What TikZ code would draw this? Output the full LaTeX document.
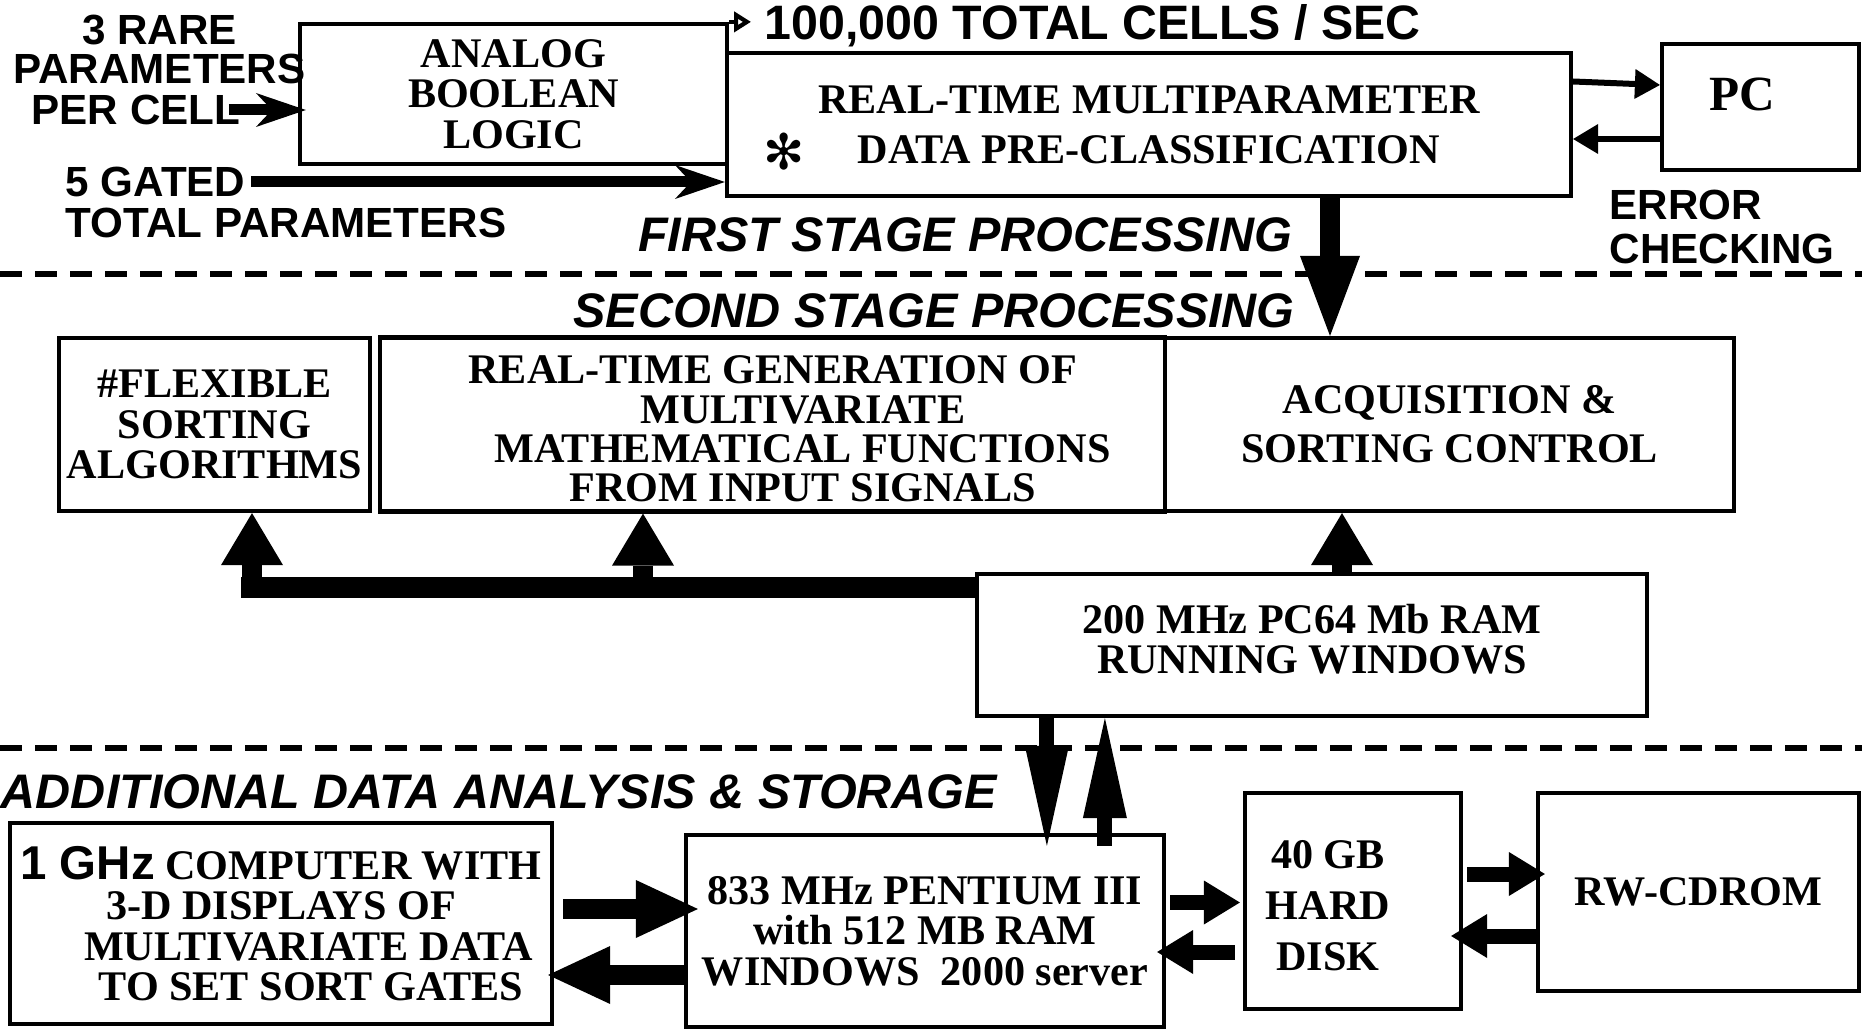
\documentclass[tikz,border=0pt]{standalone}
\usepackage{fontspec}
\setmainfont{Liberation Serif}
\setsansfont{Liberation Sans}
\newfontfamily\dingfont{DejaVu Sans}
\usetikzlibrary{
  arrows.meta,
  positioning
}
% stacked lines with extra room above / below
\newcommand{\padtext}[3]{\raisebox{0pt}[\dimexpr\height+#1\relax][\dimexpr\depth+#2\relax]{%
  \begin{tabular}{@{}c@{}}#3\end{tabular}}}

\begin{document}
\begin{tikzpicture}[
  blk/.style={draw, line width=1.2pt, inner sep=0pt, align=center,
    font=\bfseries\fontsize{12}{11.5}\selectfont},
  lbl/.style={inner sep=0pt, align=center,
    font=\sffamily\bfseries\fontsize{12}{11.2}\selectfont},
  stagelbl/.style={inner sep=0pt,
    font=\sffamily\bfseries\itshape\fontsize{13.8}{14}\selectfont},
  divider/.style={line width=1.5pt, dash pattern=on 0.22cm off 0.13cm},
  inarrow/.style={line width=0.11cm,
    -{Stealth[length=0.5cm, width=0.34cm, inset=0.16cm, line width=0pt]}},
  thinarrow/.style={line width=0.06cm,
    -{Triangle[length=0.25cm, width=0.3cm, line width=0pt]}},
  downarrow/.style={line width=0.2cm,
    -{Triangle[length=0.8cm, width=0.6cm, line width=0pt]}},
  bigarrow/.style={line width=0.2cm,
    -{Triangle[length=0.62cm, width=0.58cm, line width=0pt]}},
  busarrow/.style={line width=0.2cm,
    -{Triangle[length=0.52cm, width=0.62cm, line width=0pt]}},
  midarrow/.style={line width=0.15cm,
    -{Triangle[length=0.36cm, width=0.44cm, line width=0pt]}},
  longarrow/.style={line width=0.15cm,
    -{Triangle[length=1.0cm, width=0.44cm, line width=0pt]}}
]
  \useasboundingbox (0,0) rectangle (18.62,10.30);

  % first stage
  \node[lbl] (rare) at (1.595,9.805) {3 RARE\\PARAMETERS};
  \node[lbl] (percell) at (1.36,9.20) {PER CELL};
  \node[lbl, anchor=west] (gated) at (0.65,8.48) {5 GATED};
  \node[lbl, anchor=west] (totalpar) at (0.65,8.07) {TOTAL PARAMETERS};

  \node[blk, minimum width=4.27cm, minimum height=1.40cm] (analog) at (5.135,9.36)
    {ANALOG\\BOOLEAN\\LOGIC};
  \node[blk, minimum width=8.44cm, minimum height=1.43cm] (rt) at (11.49,9.055)
    {REAL-TIME MULTIPARAMETER\\[0.1cm]DATA PRE-CLASSIFICATION};
  \node[inner sep=0pt, font=\dingfont\fontsize{14}{14}\selectfont] (star) at (7.84,8.78) {✻};
  \node[blk, minimum width=1.97cm, minimum height=1.26cm, text depth=0.25cm,
    font=\bfseries\fontsize{14}{14}\selectfont] (pc) at (17.605,9.23) {PC\kern0.36cm\null};

  \node[lbl, anchor=west, font=\sffamily\bfseries\fontsize{13.75}{14}\selectfont] (cells)
    at (7.64,10.04) {100,000 TOTAL CELLS / SEC};
  \node[lbl, anchor=west, align=left, font=\sffamily\bfseries\fontsize{12}{12.5}\selectfont]
    (errchk) at (16.09,8.03) {ERROR\\CHECKING};
  \node[stagelbl] (first) at (9.65,7.95) {FIRST STAGE PROCESSING};

  \draw[inarrow, shorten >=-0.08cm] ([xshift=-0.12cm]percell.east) -- (percell.east -| analog.west);
  \draw[inarrow] ([xshift=0.05cm]gated.east) -- (gated.east -| rt.west);
  \draw[line width=1.2pt, -{Triangle[open, length=0.17cm, width=0.2cm]}, shorten >=0.13cm]
    (analog.north east) -- (analog.north east -| cells.west);
  \draw[thinarrow] ([yshift=0.43cm]rt.east) -- ([yshift=0.22cm]pc.west);
  \draw[thinarrow] ([yshift=-0.32cm]pc.west) -- ([yshift=-0.32cm]pc.west -| rt.east);

  \draw[divider] (0,7.56) -- (18.62,7.56);

  % second stage
  \node[stagelbl] (second) at (9.34,7.19) {SECOND STAGE PROCESSING};

  \node[blk, minimum width=3.11cm, minimum height=1.73cm] (flex) at (2.145,6.055)
    {\#FLEXIBLE\\SORTING\\ALGORITHMS};
  \node[blk, minimum width=7.85cm, minimum height=1.74cm, right=0.06cm of flex,
    font=\bfseries\fontsize{12}{10.8}\selectfont] (gen)
    {\padtext{0pt}{-0.2cm}{REAL-TIME GENERATION OF\\\hspace*{0.6cm}MULTIVARIATE\\
     \hspace*{0.6cm}MATHEMATICAL FUNCTIONS\\\hspace*{0.6cm}FROM INPUT SIGNALS}};
  \node[blk, minimum width=5.69cm, minimum height=1.73cm, right=-1.2pt of gen] (acq)
    {ACQUISITION \&\\[0.085cm]SORTING CONTROL};
  \node[blk, minimum width=6.70cm, minimum height=1.42cm] (pc200) at (13.12,3.85)
    {\padtext{0pt}{0pt}{200 MHz PC64 Mb RAM\\RUNNING WINDOWS}};

  \draw[downarrow] ([xshift=1.81cm]rt.south) -- ([xshift=1.81cm]rt.south |- acq.north);

  % bus to the processing blocks
  \coordinate (tapflex) at (2.52,4.425);
  \coordinate (tapgen) at (6.43,4.425);
  \draw[line width=0.21cm] ([xshift=-0.11cm]tapflex) -- (tapflex -| pc200.west);
  \draw[busarrow] ([yshift=0.1cm]tapflex) -- (tapflex |- flex.south);
  \draw[busarrow] ([yshift=0.1cm]tapgen) -- (tapgen |- gen.south);
  \draw[busarrow] ([xshift=0.3cm]pc200.north) -- ([xshift=0.3cm]pc200.north |- acq.south);

  \draw[divider] (0,2.82) -- (18.62,2.82);

  % analysis and storage
  \node[stagelbl] (addl) at (4.99,2.38) {ADDITIONAL DATA ANALYSIS \& STORAGE};

  \node[blk, minimum width=5.42cm, minimum height=2.01cm] (comp) at (2.81,1.065)
    {{\sffamily\fontsize{13.5}{11.5}\selectfont 1 GHz} COMPUTER WITH\\
     3-D DISPLAYS OF\hspace*{0.2cm}\\\hspace*{0.55cm}MULTIVARIATE DATA\\
     \hspace*{0.6cm}TO SET SORT GATES};
  \node[blk, minimum width=4.78cm, minimum height=1.92cm] (pent) at (9.25,0.99)
    {833 MHz PENTIUM III\\with 512 MB RAM\\WINDOWS\ \ 2000 server};
  \node[blk, minimum width=2.16cm, minimum height=2.16cm] (disk) at (13.53,1.29)
    {\padtext{0.2cm}{0pt}{40 GB\\[0.105cm]HARD\\[0.105cm]DISK}\kern0.5cm\null};
  \node[blk, minimum width=3.21cm, minimum height=1.98cm] (cdrom) at (16.985,1.38)
    {RW-CDROM};

  \draw[longarrow, shorten >=-0.13cm] ([xshift=0.72cm]pc200.south west)
    -- ([xshift=0.72cm]pc200.south west |- pent.north);
  \draw[longarrow, shorten <=-0.13cm] ([xshift=1.30cm]pc200.south west |- pent.north)
    -- ([xshift=1.30cm]pc200.south west);

  \draw[bigarrow, shorten <=0.09cm, shorten >=-0.14cm] ([yshift=0.145cm]comp.east)
    -- ([yshift=0.145cm]comp.east -| pent.west);
  \draw[bigarrow, shorten >=-0.06cm] ([yshift=-0.515cm]comp.east -| pent.west)
    -- ([yshift=-0.515cm]comp.east);
  \draw[midarrow, shorten <=0.04cm, shorten >=0.03cm] ([yshift=0.285cm]pent.east)
    -- ([yshift=0.285cm]pent.east -| disk.west);
  \draw[midarrow, shorten <=0.08cm, shorten >=-0.09cm] ([yshift=-0.21cm]pent.east -| disk.west)
    -- ([yshift=-0.21cm]pent.east);
  \draw[midarrow, shorten <=0.04cm, shorten >=-0.09cm] ([yshift=0.27cm]disk.east)
    -- ([yshift=0.27cm]disk.east -| cdrom.west);
  \draw[midarrow, shorten <=-0.04cm, shorten >=-0.12cm] ([yshift=-0.35cm]disk.east -| cdrom.west)
    -- ([yshift=-0.35cm]disk.east);

\end{tikzpicture}
\end{document}
